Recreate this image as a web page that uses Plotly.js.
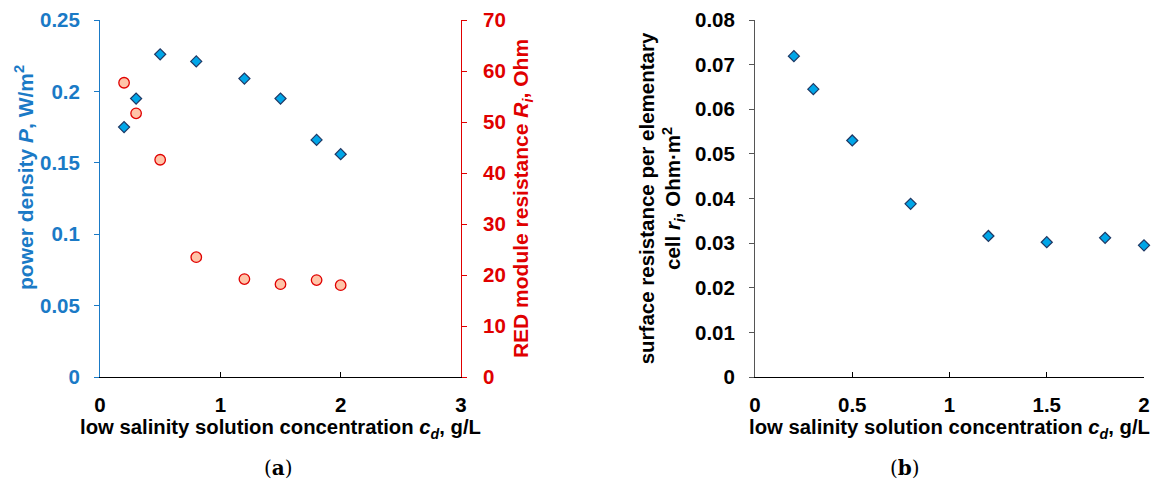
<!DOCTYPE html>
<html><head><meta charset="utf-8">
<script src="https://cdn.plot.ly/plotly-3.0.1.min.js"></script>
<style>html,body{margin:0;padding:0;background:#fff}#c{width:1169px;height:479px}</style>
</head><body><div id="c"></div>
<script>
const conc = [0.2, 0.3, 0.5, 0.8, 1.2, 1.5, 1.8, 2.0];
const powerDensity = [0.175, 0.195, 0.226, 0.221, 0.209, 0.195, 0.166, 0.156];
const moduleResistance = [57.7, 51.7, 42.6, 23.5, 19.2, 18.2, 19.0, 18.0];
const surfaceResistance = [0.0719, 0.0645, 0.0530, 0.0388, 0.0316, 0.0302, 0.0312, 0.0295];
const xTicksA = [0, 1, 2, 3];
const xTicksB = [0, 0.5, 1, 1.5, 2];

const BLUE = '#1a7ac6', RED = '#e00000';
const F = 'Liberation Sans, Arial, sans-serif';
const diamond = {symbol: 'diamond', size: 8.5, color: '#00a6e8', line: {color: '#1f3864', width: 1.2}};

const traces = [
  {x: conc, y: powerDensity, xaxis: 'x', yaxis: 'y', mode: 'markers', type: 'scatter', marker: diamond, name: 'P', cliponaxis: false},
  {x: conc, y: moduleResistance, xaxis: 'x', yaxis: 'y2', mode: 'markers', type: 'scatter', cliponaxis: false,
   marker: {symbol: 'circle', size: 10.5, color: '#ffc4a8', line: {color: RED, width: 1.3}}, name: 'Ri'},
  {x: conc, y: surfaceResistance, xaxis: 'x2', yaxis: 'y3', mode: 'markers', type: 'scatter', marker: diamond, name: 'ri', cliponaxis: false}
];

const tf = {family: F, size: 20.5, color: '#000', weight: 'bold'};
const ttf = {family: F, size: 20.3, color: '#000', weight: 'bold'};
const xTitle = 'low salinity solution concentration <i>c<sub>d</sub></i>, g/L';
const capFont = {family: 'DejaVu Serif, Liberation Serif, serif', size: 20, color: '#000', weight: 'normal'};

const layout = {
  width: 1169, height: 479,
  margin: {l: 0, r: 0, t: 20, b: 102},
  paper_bgcolor: '#fff', plot_bgcolor: '#fff',
  showlegend: false,
  font: {family: F, size: 20, weight: 'bold'},
  xaxis: {
    domain: [100/1169, 461/1169], range: [0, 3], tickvals: xTicksA, anchor: 'y',
    showgrid: false, zeroline: false, showline: true, linecolor: '#000', linewidth: 1,
    ticks: 'inside', ticklen: 5, tickcolor: '#000', tickfont: tf, ticklabelstandoff: 9,
    title: {text: xTitle, font: ttf, standoff: 5}
  },
  yaxis: {
    domain: [0, 1], range: [0, 0.25], tickvals: [0, 0.05, 0.1, 0.15, 0.2, 0.25], anchor: 'x',
    showgrid: false, zeroline: false, showline: true, linecolor: BLUE, linewidth: 1,
    ticks: 'outside', ticklen: 5, tickcolor: BLUE, ticklabelstandoff: 10,
    tickfont: {family: F, size: 20.5, color: BLUE, weight: 'bold'}
  },
  yaxis2: {
    overlaying: 'y', side: 'right', anchor: 'x', range: [0, 70], tickvals: [0, 10, 20, 30, 40, 50, 60, 70],
    showgrid: false, zeroline: false, showline: true, linecolor: RED, linewidth: 1,
    ticks: 'outside', ticklen: 5, tickcolor: RED, ticklabelstandoff: 12,
    tickfont: {family: F, size: 20.5, color: RED, weight: 'bold'},
    title: {text: 'RED module resistance <i>R<sub>i</sub></i>, Ohm', font: {family: F, size: 21, color: RED, weight: 'bold'}, standoff: 8}
  },
  xaxis2: {
    domain: [755/1169, 1144/1169], range: [0, 2], tickvals: xTicksB, anchor: 'y3',
    showgrid: false, zeroline: false, showline: true, linecolor: '#000', linewidth: 1,
    ticks: 'inside', ticklen: 5, tickcolor: '#000', tickfont: tf, ticklabelstandoff: 9,
    title: {text: xTitle, font: ttf, standoff: 5}
  },
  yaxis3: {
    domain: [0, 1], range: [0, 0.08], tickvals: [0, 0.01, 0.02, 0.03, 0.04, 0.05, 0.06, 0.07, 0.08], anchor: 'x2',
    tickformat: '.2~f',
    showgrid: false, zeroline: false, showline: true, linecolor: '#555', linewidth: 1,
    ticks: 'outside', ticklen: 5, tickcolor: '#555', tickfont: tf, ticklabelstandoff: 10,
    title: {text: 'surface resistance per elementary<br>cell <i>r<sub>i</sub></i>, Ohm·m<sup>2</sup>', font: {family: F, size: 20.5, color: '#000', weight: 'bold'}, standoff: 8}
  },
  annotations: [
    {text: 'power density <i>P</i>, W/m<sup>2</sup>', xref: 'paper', yref: 'paper', x: 24/1169, y: (377-178)/357,
     textangle: -90, showarrow: false, xanchor: 'center', yanchor: 'middle',
     font: {family: F, size: 21, color: BLUE, weight: 'bold'}},
    {text: '(<b>a</b>)', xref: 'paper', yref: 'paper', x: 278/1169, y: -91/357, showarrow: false, xanchor: 'center', yanchor: 'middle', font: capFont},
    {text: '(<b>b</b>)', xref: 'paper', yref: 'paper', x: 905/1169, y: -91/357, showarrow: false, xanchor: 'center', yanchor: 'middle', font: capFont}
  ]
};
Plotly.newPlot('c', traces, layout, {displayModeBar: false, staticPlot: true});
</script></body></html>
